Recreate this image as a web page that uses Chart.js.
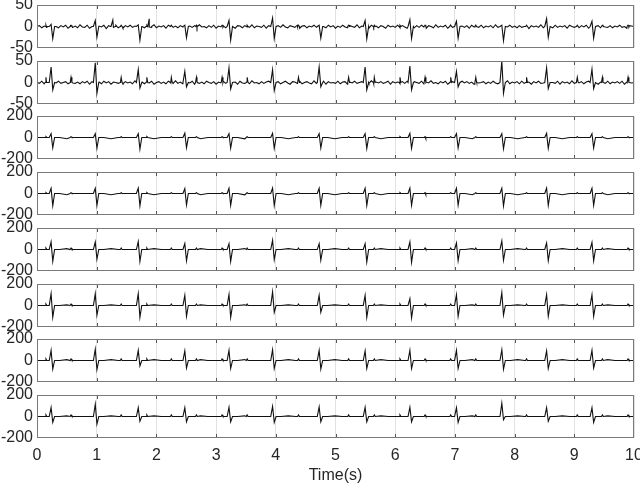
<!DOCTYPE html>
<html>
<head>
<meta charset="utf-8">
<script src="https://cdn.jsdelivr.net/npm/chart.js@4/dist/chart.umd.min.js"></script>
<style>
  body { margin: 0; background: #fff; }
  #wrap { position: relative; width: 640px; height: 488px; }
  #wrap canvas { position: absolute; left: 0; }
</style>
</head>
<body>
<div id="wrap"></div>
<script>
// maternal beat times (s), shared by all leads
const beatT = [0.25, 0.99, 1.71, 2.49, 3.23, 3.96, 4.74, 5.51, 6.26, 7.04, 7.80, 8.55, 9.31];
// small fetal spikes (s)
const fetalT = [0.15, 0.57, 1.41, 1.84, 2.25, 2.67, 3.10, 3.52, 4.38, 4.80, 5.22, 5.65, 6.08, 6.50, 6.93, 7.35, 8.20, 8.62, 9.05, 9.47, 9.90];

// peak (up) and trough (down) of each beat, one pair per panel
const up1 = [5, 14, 4, 3, 14, 20, 3, 14, 16, 12, 3, 18, 12];
const down1 = [-28, -25, -32, -26, -32, -28, -27, -29, -28, -27, -33, -25, -27];
const up2 = [36, 46, 30, 26, 34, 30, 36, 36, 38, 26, 50, 34, 31];
const down2 = [-17, -25, -13, -10, -15, -19, -10, -17, -17, -10, -25, -14, -14];
const up3 = [35, 35, 35, 40, 35, 38, 35, 35, 38, 35, 35, 38, 35];
const down3 = [-95, -100, -108, -95, -100, -100, -98, -102, -100, -98, -105, -100, -98];
const up4 = [48, 48, 50, 45, 48, 50, 48, 48, 50, 48, 48, 50, 48];
const down4 = [-114, -110, -115, -108, -110, -112, -110, -112, -110, -108, -115, -110, -110];
const up5 = [70, 70, 75, 55, 54, 86, 54, 54, 70, 60, 80, 60, 65];
const down5 = [-110, -90, -110, -105, -111, -95, -100, -117, -120, -105, -100, -105, -105];
const up6 = [110, 110, 110, 95, 104, 127, 95, 95, 63, 100, 120, 100, 100];
const down6 = [-110, -90, -110, -100, -111, -63, -63, -111, -117, -100, -90, -100, -100];
const up7 = [95, 105, 95, 90, 95, 100, 95, 90, 95, 95, 100, 90, 95];
const down7 = [-80, -85, -50, -70, -75, -75, -80, -75, -75, -75, -82, -75, -70];
const up8 = [83, 114, 83, 83, 85, 95, 90, 85, 85, 82, 124, 82, 82];
const down8 = [-54, -70, -45, -50, -50, -55, -50, -50, -50, -54, -30, -44, -54];

const fetalAmp = [3, 12, 8, 8, 14, 14, 15, 15];
const tWave = [0, 0, -12, -12, 8, 6, 8, 6];
const yLimit = [50, 50, 200, 200, 200, 200, 200, 200];

// extra slow bumps in the first lead
const bump1T = [1.27, 1.88];
const bump1V = [15, 18];

// baseline noise of the first two leads, every 0.04 s
const noise1 = [
  0,2,-3,1,-2,3,-4,1,0,-3,2,-1,3,-4,2,-2,1,-3,4,-1,
  -2,3,-4,0,2,-3,1,-1,3,-5,2,0,-2,3,-3,1,-4,2,-1,3,
  -2,1,-4,2,0,-3,3,-1,-2,4,-3,1,-1,2,-4,3,0,-2,1,-3,
  2,-1,3,-4,1,-2,2,-3,4,-1,0,-3,2,-2,3,-4,1,-1,2,-3,
  3,-2,0,-4,2,1,-3,2,-1,-2,4,-3,1,0,-2,3,-4,2,-1,1,
  -3,2,-2,4,-1,-3,2,0,-2,3,-4,1,2,-3,1,-1,3,-2,-4,2,
  0,-3,3,-1,2,-4,1,-2,3,-1,-3,2,0,-2,4,-3,1,-1,2,-4,
  3,-2,1,-3,2,0,-4,3,-1,1,-2,3,-3,2,-1,-4,2,1,-3,2,
  -2,3,-1,-4,2,0,-3,4,-2,1,-1,3,-4,2,-2,0,3,-3,1,-2,
  2,-4,3,-1,0,-2,3,-3,1,-1,2,-3,4,-2,1,-3,2,-1,3,-2,
  1,-3,2,-2,0,3,-5,2,-1,1,-2,4,-3,0,2,-1,-3,3,-2,1,
  -1,2,-4,3,0,-2,1,-3,2,-1,3,-4,1,0,-2,2,-3,4,-1,-2,
  2,-3,1,-1,3,-2,0,-4,2,1,0
];
const noise2 = [
  1,-2,3,-3,0,2,-4,1,-1,3,-2,0,2,-3,4,-1,-2,1,-3,2,
  -1,3,-4,2,0,-2,1,-3,3,-1,2,-4,1,0,-2,3,-3,2,-1,1,
  -3,4,-2,0,1,-3,2,-1,3,-4,0,2,-2,1,-3,3,-1,-2,4,-2,
  1,-3,2,0,-1,3,-4,2,-2,1,-3,3,0,-2,2,-4,1,-1,3,-2,
  2,-3,0,1,-4,3,-1,-2,2,-3,4,-1,0,-3,2,-2,1,3,-4,1,
  -2,2,-3,0,3,-1,-4,2,1,-2,3,-3,0,2,-1,-3,4,-2,1,-1,
  3,-4,2,-1,0,-2,3,-3,1,2,-4,1,-1,3,-2,0,2,-3,1,-2,
  4,-3,1,-1,2,-2,0,3,-4,2,-1,1,-3,2,-2,3,-1,-3,2,0,
  -2,3,-3,1,-1,4,-2,0,-3,2,-1,3,-4,1,2,-2,0,-3,3,-1,
  2,-2,1,-4,3,-1,0,2,-3,1,-2,3,-1,-3,2,0,-2,4,-3,1,
  -1,2,-3,3,-2,0,1,-4,2,-1,3,-2,-1,2,-3,1,0,-2,3,-4,
  2,-1,1,-3,4,-2,0,-1,2,-3,1,3,-2,-1,2,-4,1,0,-2,3,
  -3,1,-1,2,-2,3,-4,1,0,-1,0
];

const ups = [up1, up2, up3, up4, up5, up6, up7, up8];
const downs = [down1, down2, down3, down4, down5, down6, down7, down8];
const noises = [noise1, noise2, null, null, null, null, null, null];

function buildSeries(p) {
  const pts = [];
  const noise = noises[p];
  if (noise) {
    noise.forEach((v, k) => {
      const t = k * 0.04;
      if (beatT.every(b => Math.abs(t - b) > 0.05)) pts.push({ x: t, y: v });
    });
  } else {
    pts.push({ x: 0, y: 0 }, { x: 10, y: 0 });
  }
  beatT.forEach((b, j) => {
    pts.push({ x: b - 0.045, y: 0 }, { x: b - 0.014, y: ups[p][j] },
             { x: b + 0.014, y: downs[p][j] }, { x: b + 0.045, y: 0 });
    if (tWave[p]) {
      pts.push({ x: b + 0.13, y: 0 }, { x: b + 0.25, y: tWave[p] }, { x: b + 0.37, y: 0 });
    }
  });
  fetalT.forEach(f => {
    if (beatT.some(b => Math.abs(f - b) < 0.1)) return;
    pts.push({ x: f - 0.015, y: 0 }, { x: f, y: fetalAmp[p] }, { x: f + 0.015, y: 0 });
  });
  if (p === 0) {
    bump1T.forEach((t, k) => {
      pts.push({ x: t - 0.04, y: 0 }, { x: t, y: bump1V[k] }, { x: t + 0.04, y: 0 });
    });
  }
  pts.sort((a, b) => a.x - b.x);
  return pts;
}

// box + inward ticks like the original figure
const boxPlugin = {
  id: 'box',
  afterDraw(chart) {
    const { ctx, chartArea: a, scales } = chart;
    ctx.save();
    ctx.strokeStyle = '#555';
    ctx.lineWidth = 1;
    ctx.beginPath();
    for (let v = 1; v < 10; v++) {
      const x = Math.round(scales.x.getPixelForValue(v)) + 0.5;
      ctx.moveTo(x, a.top); ctx.lineTo(x, a.top + 4);
      ctx.moveTo(x, a.bottom); ctx.lineTo(x, a.bottom - 4);
    }
    ctx.stroke();
    ctx.strokeStyle = '#7a7a7a';
    ctx.strokeRect(Math.round(a.left) + 0.5, Math.round(a.top) + 0.5,
                   Math.round(a.right - a.left) - 1, Math.round(a.bottom - a.top) - 1);
    ctx.restore();
  }
};

const wrap = document.getElementById('wrap');
const font = "'Liberation Sans', Arial, Helvetica, sans-serif";

for (let p = 0; p < 8; p++) {
  const last = p === 7;
  const top = Math.round(5 + p * 55.7);
  const h = 43;
  const cv = document.createElement('canvas');
  const cvTop = top - 10;
  const cvH = last ? 488 - cvTop : h + 20;
  cv.width = 640;
  cv.height = cvH;
  cv.style.top = cvTop + 'px';
  wrap.appendChild(cv);

  new Chart(cv, {
    type: 'line',
    data: {
      datasets: [{
        data: buildSeries(p),
        borderColor: '#111',
        borderWidth: 1.1,
        pointRadius: 0,
        tension: 0,
      }],
    },
    options: {
      responsive: false,
      animation: false,
      layout: { padding: { top: 10, bottom: last ? 0 : 10, left: 0, right: 6 } },
      plugins: { legend: { display: false }, tooltip: { enabled: false } },
      scales: {
        x: {
          type: 'linear',
          min: 0,
          max: 10,
          afterFit: s => {
            s.height = last ? 488 - cvTop - 10 - h : 0;
            s.paddingLeft = 0;
            s.paddingRight = 0;
          },
          ticks: {
            display: last,
            stepSize: 1,
            padding: 8,
            autoSkip: false,
            color: '#262626',
            font: { family: font, size: 16 },
            maxRotation: 0,
          },
          grid: { color: '#e2e2e2', drawTicks: false },
          border: { display: false },
          title: {
            display: last,
            text: 'Time(s)',
            color: '#262626',
            font: { family: font, size: 16 },
            padding: { top: 0, bottom: 3 },
          },
        },
        y: {
          min: -yLimit[p],
          max: yLimit[p],
          afterFit: s => {
            s.width = 37;
            s.paddingTop = 0;
            s.paddingBottom = 0;
          },
          ticks: {
            stepSize: yLimit[p],
            padding: 4,
            autoSkip: false,
            color: '#262626',
            font: { family: font, size: 16 },
            callback: v => String(v),
          },
          grid: { display: false, drawTicks: false },
          border: { display: false },
        },
      },
    },
    plugins: [boxPlugin],
  });
}
</script>
</body>
</html>
